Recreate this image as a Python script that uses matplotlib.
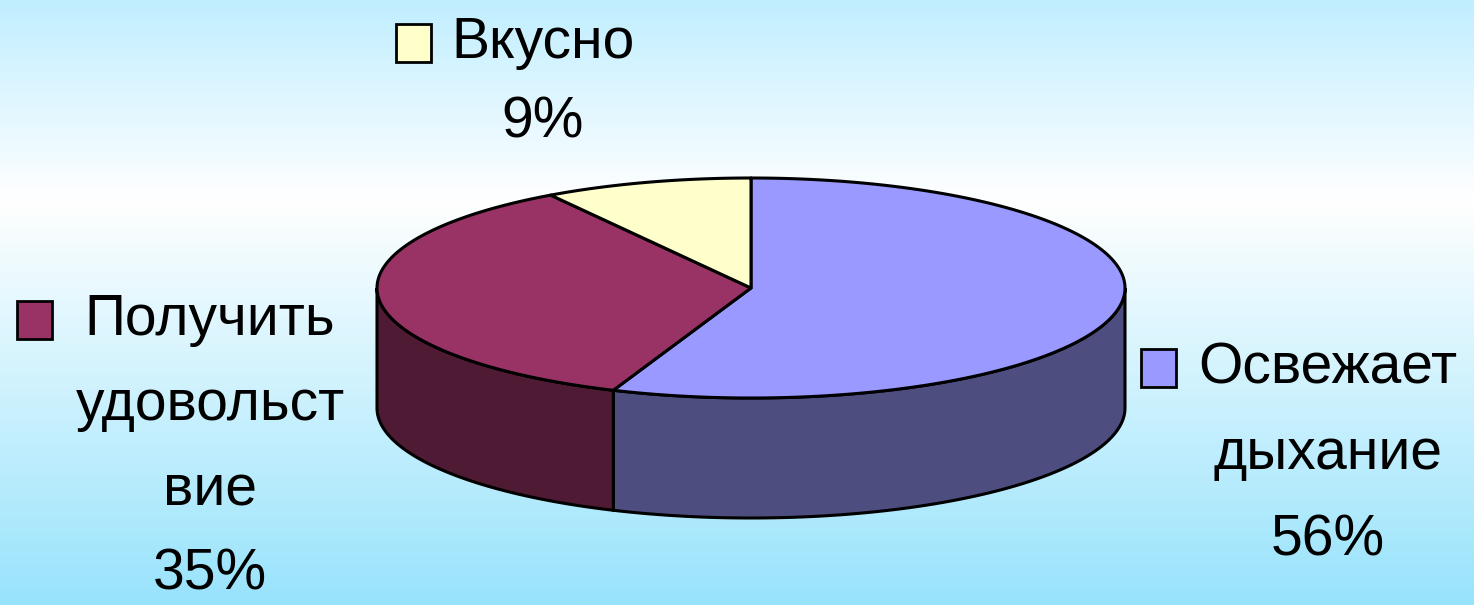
import numpy as np
import matplotlib.pyplot as plt
from matplotlib.colors import LinearSegmentedColormap
from matplotlib.patches import Polygon, Rectangle

plt.rcParams['font.family'] = ['Liberation Sans', 'DejaVu Sans']

# data
labels = ["Освежает\nдыхание", "Получить\nудовольст\nвие", "Вкусно"]
values = [56, 35, 9]
top_colors = ["#9999ff", "#993366", "#ffffcc"]
side_colors = ["#4d4d7f", "#4f1a33", "#808066"]

W, H = 1474, 605
fig = plt.figure(figsize=(W / 100, H / 100), dpi=100)
ax = fig.add_axes([0, 0, 1, 1])
ax.set_xlim(0, W)
ax.set_ylim(H, 0)
ax.axis('off')

# background gradient
bg = LinearSegmentedColormap.from_list(
    "bg", [(0, "#c0eeff"), (0.33, "#ffffff"), (1, "#98e3fc")])
grad = np.linspace(0, 1, 256).reshape(-1, 1)
ax.imshow(grad, cmap=bg, extent=[0, W, H, 0], aspect='auto', zorder=0)

# pie geometry (pixels)
cx, cy = 751, 288
rx, ry = 374, 110
depth = 120


def pt(theta, dy=0):
    t = np.radians(theta)
    return cx + rx * np.cos(t), cy - ry * np.sin(t) + dy


total = sum(values)
start = 90.0
slices = []
for v in values:
    end = start - v / total * 360
    slices.append((end, start))
    start = end

# sides (front half only)
for (a0, a1), col in zip(slices, side_colors):
    for k in (-1, 0, 1):
        lo = max(a0, k * 360 - 180)
        hi = min(a1, k * 360)
        if hi <= lo:
            continue
        th = np.linspace(lo, hi, 120)
        top = [pt(t) for t in th]
        bot = [pt(t, depth) for t in th[::-1]]
        ax.add_patch(Polygon(top + bot, closed=True, facecolor=col,
                             edgecolor='black', lw=2.2, zorder=2))

# top faces
for (a0, a1), col in zip(slices, top_colors):
    th = np.linspace(a0, a1, 200)
    poly = [(cx, cy)] + [pt(t) for t in th]
    ax.add_patch(Polygon(poly, closed=True, facecolor=col,
                         edgecolor='black', lw=2.2, joinstyle='round', zorder=3))

# labels
fs = 41
pct = [f"{v}%" for v in values]
label_pos = [(1328, 368, 1141), (210, 320, 17), (543, 43, 396)]
line_gap = [86, 85, 80]
for lab, p, (x, y, sx), gap, col in zip(labels, pct, label_pos, line_gap, top_colors):
    lines = lab.split("\n") + [p]
    for i, line in enumerate(lines):
        ax.text(x, y + i * gap, line, fontsize=fs, ha='center', va='center',
                color='black', zorder=5)
    ax.add_patch(Rectangle((sx, y - 19), 35, 38, facecolor=col,
                           edgecolor='black', lw=2, zorder=5))

fig.savefig("out.png", dpi=100)
